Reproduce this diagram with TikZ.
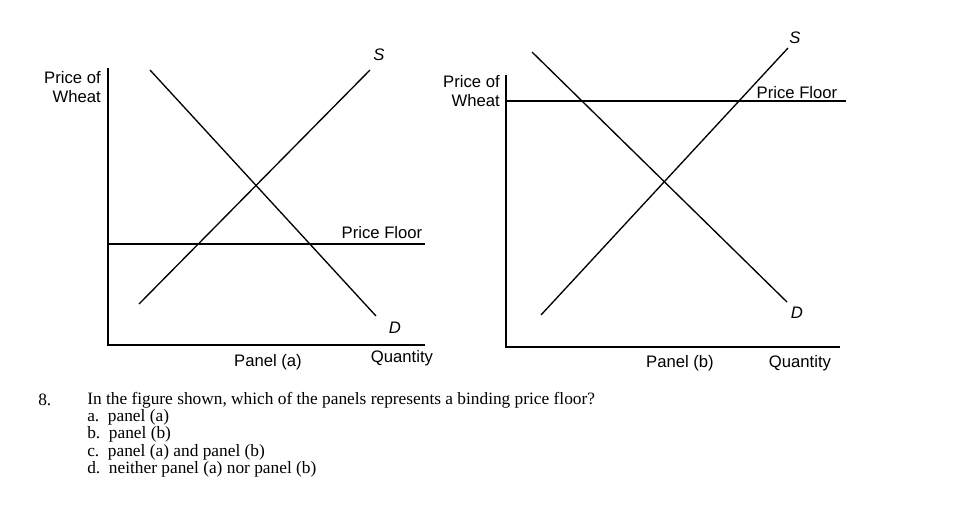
\documentclass[tikz,border=0pt]{standalone}
\usepackage{fontspec}
\setmainfont{Liberation Serif}
\newfontfamily\lab{Liberation Sans}
\begin{document}
\begin{tikzpicture}[x=0.75pt,y=-0.75pt,
 ln/.style={line width=1pt},
 tx/.style={font=\lab\fontsize{12.5}{14}\selectfont,inner sep=0pt},
 it/.style={font=\lab\itshape\fontsize{12.5}{14}\selectfont,inner sep=0pt},
 q/.style={font=\fontsize{13}{14}\selectfont,inner sep=0pt,anchor=west}]
\useasboundingbox (0,0) rectangle (965,512);
% Panel a
\coordinate (ay0) at (108,68); \coordinate (ao) at (108,345); \coordinate (ax1) at (425,345);
\draw[ln] (ay0) -- (ao) -- (ax1);
\coordinate (apf0) at (108,244); \coordinate (apf1) at (425,244);
\draw[ln] (apf0) -- (apf1);
\coordinate (ad0) at (150,70); \coordinate (ad1) at (376,316);
\draw[ln] (ad0) -- (ad1);
\coordinate (as0) at (139,304); \coordinate (as1) at (370,70);
\draw[ln] (as0) -- (as1);
\node[it] (aS) at (379,55) {S};
\node[it] (aD) at (395,328) {D};
\node[tx] (aPF) at (382,233) {Price Floor};
\node[tx,align=right,anchor=east] (aP) at (101,87) {Price of\\Wheat};
\node[tx] (aPa) at (268,362) {Panel (a)};
\node[tx] (aQ) at (402,358) {Quantity};
% Panel b
\coordinate (by0) at (506,75); \coordinate (bo) at (506,347); \coordinate (bx1) at (840,347);
\draw[ln] (by0) -- (bo) -- (bx1);
\coordinate (bpf0) at (506,101); \coordinate (bpf1) at (846,101);
\draw[ln] (bpf0) -- (bpf1);
\coordinate (bd0) at (532,52); \coordinate (bd1) at (787,302);
\draw[ln] (bd0) -- (bd1);
\coordinate (bs0) at (541,315); \coordinate (bs1) at (788,48);
\draw[ln] (bs0) -- (bs1);
\node[it] (bS) at (795,38) {S};
\node[it] (bD) at (797,313) {D};
\node[tx] (bPF) at (797,93) {Price Floor};
\node[tx,align=right,anchor=east] (bP) at (500,91) {Price of\\Wheat};
\node[tx] (bPb) at (680,363) {Panel (b)};
\node[tx] (bQ) at (800,363) {Quantity};
% question
\node[q] (n8) at (38,400) {8.};
\node[q] (qt) at (87,400) {In the figure shown, which of the panels represents a binding price floor?};
\node[q] (qa) at (87,417) {a.\ \ panel (a)};
\node[q] (qb) at (87,434) {b.\ \ panel (b)};
\node[q] (qc) at (87,452) {c.\ \ panel (a) and panel (b)};
\node[q] (qd) at (87,469) {d.\ \ neither panel (a) nor panel (b)};
\end{tikzpicture}
\end{document}
